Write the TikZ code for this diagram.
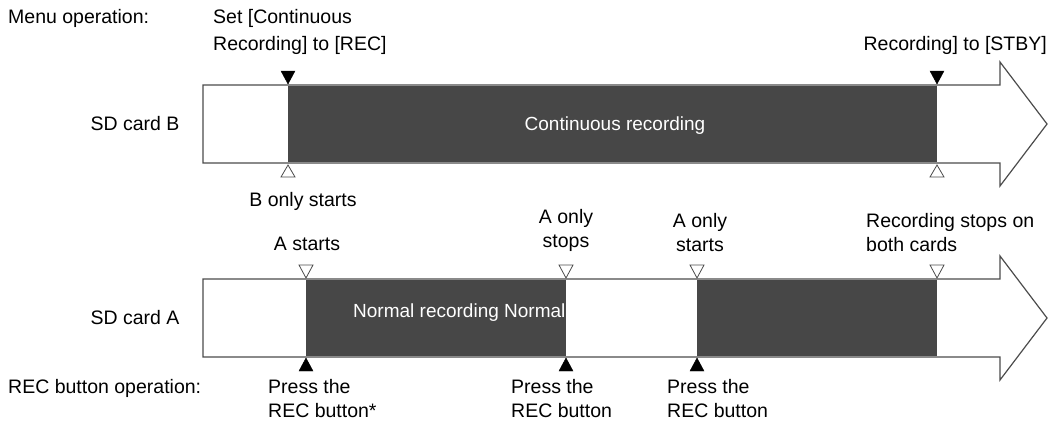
\documentclass[tikz,border=0pt]{standalone}
\usepackage{fontspec}
\setmainfont{Liberation Sans}
\usetikzlibrary{positioning}
\begin{document}
\begin{tikzpicture}[x=1pt,y=-1pt,
        lbl/.style={inner sep=0pt, font=\fontsize{19.5}{24}\selectfont, align=left},
        bar/.style={draw=black!70, line width=1.2pt, fill=white},
        run/.style={fill=black!72},
        mdown/.style={draw=black, fill=black},
        hollow/.style={draw=black!70, fill=white, line width=0.8pt},
    ]
    \useasboundingbox (0,0) rectangle (1056,426);
    % card B
    \draw[bar] (203,85) -- (1000,85) -- (1000,62) -- (1047,124) -- (1000,186) -- (1000,163) -- (203,163) -- cycle;
    \fill[run] (288,85.6) rectangle (937,162.4);
    % card A
    \draw[bar] (203,279) -- (1000,279) -- (1000,256) -- (1047,318) -- (1000,380) -- (1000,357) -- (203,357) -- cycle;
    \fill[run] (306,279.6) rectangle (566,356.4);
    \fill[run] (697,279.6) rectangle (937,356.4);
    % markers
    \foreach \x in {288,937} {
        \draw[mdown] (\x-7,71) -- (\x+7,71) -- (\x,84) -- cycle;
        \draw[hollow] (\x-7,177) -- (\x+7,177) -- (\x,165) -- cycle;
    }
    \foreach \x in {306,566,697,937}
        \draw[hollow] (\x-7,265) -- (\x+7,265) -- (\x,278) -- cycle;
    \foreach \x in {306,566,697}
        \draw[mdown] (\x-7,371) -- (\x+7,371) -- (\x,358) -- cycle;

    \node[lbl] (cardB) at (135,124) {SD card B};
    \node[lbl] (cardA) at (135,318) {SD card A};
    \node[lbl, text=white, font=\fontsize{19}{24}\selectfont] (cont) at (615,126) {Continuous recording};
    \begin{scope}
        \clip (306,280) rectangle (566,356);
        \node[lbl, text=white, anchor=west, font=\fontsize{19}{24}\selectfont] (normal) at (353,313) {Normal recording Normal recording};
    \end{scope}

    \node[lbl, anchor=west] (menu) at (8,18) {Menu operation:};
    \node[lbl, anchor=west] (menu2) at (213,18) {Set [Continuous};
    \node[lbl, anchor=west] (rec) at (213,45) {Recording] to [REC]};
    \node[lbl, anchor=east] (stby) at (1047,45) {Recording] to [STBY]};
    \node[lbl] (bstart) at (303,201) {B only starts};
    \node[lbl] (astart) at (307,244) {A starts};
    \node[lbl, align=center, anchor=south] (astop) at (566,252) {A only\\stops};
    \node[lbl, align=center, anchor=south] (astart2) at (700,252) {A only\\starts};
    \node[lbl, anchor=south west] (both) at (866,252) {Recording stops on\\both cards};
    \node[lbl, anchor=west] (button) at (8,388) {REC button operation:};
    \node[lbl, anchor=north west] (p1) at (268,379) {Press the\\REC button*};
    \node[lbl, anchor=north west] (p2) at (511,379) {Press the\\REC button};
    \node[lbl, anchor=north west] (p3) at (667,379) {Press the\\REC button};
\end{tikzpicture}
\end{document}
